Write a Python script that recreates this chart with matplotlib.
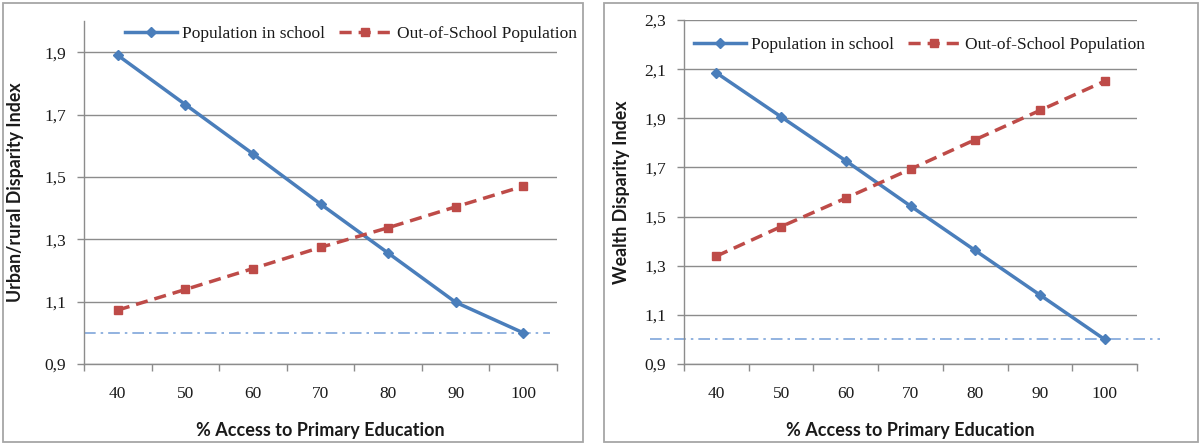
import matplotlib
matplotlib.use("Agg")
import matplotlib.pyplot as plt
from matplotlib.patches import Rectangle
from matplotlib.ticker import FixedLocator, FuncFormatter

# ---- data ----
access = ["40", "50", "60", "70", "80", "90", "100"]
urban_in_school = [1.89, 1.732, 1.574, 1.413, 1.256, 1.098, 1.0]
urban_out_school = [1.073, 1.139, 1.206, 1.274, 1.337, 1.404, 1.470]
wealth_in_school = [2.085, 1.906, 1.727, 1.543, 1.362, 1.181, 1.0]
wealth_out_school = [1.339, 1.459, 1.575, 1.693, 1.813, 1.932, 2.051]
urban_yticks = [0.9, 1.1, 1.3, 1.5, 1.7, 1.9]
wealth_yticks = [0.9, 1.1, 1.3, 1.5, 1.7, 1.9, 2.1, 2.3]
parity = 1.0
label_in = "Population in school"
label_out = "Out-of-School Population"
xlabel = "% Access to Primary Education"
ylabel_left = "Urban/rural Disparity Index"
ylabel_right = "Wealth Disparity Index"

BLUE = "#4A7EBB"
RED = "#BE4B48"
GRID = "#8C8C8C"
REF = "#7FA6DA"
TXT = "#1A1A1A"
SERIF = ["Liberation Serif", "DejaVu Serif"]
SANS = ["Lato", "DejaVu Sans"]

fig = plt.figure(figsize=(12, 4.43), dpi=100)
W, H = 1200, 443

# panel borders
for (x0, x1) in [(3, 583), (604, 1198)]:
    fig.add_artist(Rectangle((x0 / W, 1.5 / H), (x1 - x0) / W, (440 - 1.5) / H,
                             transform=fig.transFigure, fill=False,
                             edgecolor="#A6A6A6", linewidth=1.3))


def fmt(v, pos):
    return f"{v:.1f}".replace(".", ",")


def make_panel(rect, in_vals, out_vals, yticks, ylim, ylabel, leg_anchor,
               ref_x, ylab_x):
    ax = fig.add_axes(rect)
    n = len(access)
    xs = list(range(n))
    ax.set_xlim(-0.5, n - 0.5)
    ax.set_ylim(*ylim)
    ax.yaxis.set_major_locator(FixedLocator(yticks))
    ax.yaxis.set_major_formatter(FuncFormatter(fmt))
    ax.set_xticks([i - 0.5 for i in range(n + 1)])
    ax.set_xticklabels([])
    ax.set_xticks(xs, minor=True)
    ax.set_xticklabels(access, minor=True)
    ax.tick_params(axis="x", which="major", length=5, width=1, color=GRID,
                   direction="out")
    ax.tick_params(axis="x", which="minor", length=0, pad=16,
                   labelsize=12.5, labelcolor=TXT)
    ax.tick_params(axis="y", length=5, width=1, color=GRID, direction="out",
                   pad=8, labelsize=12.5, labelcolor=TXT)
    for lab in ax.get_xticklabels(minor=True) + ax.get_yticklabels():
        lab.set_family(SERIF)
    for s in ["top", "right"]:
        ax.spines[s].set_visible(False)
    for s in ["left", "bottom"]:
        ax.spines[s].set_color(GRID)
        ax.spines[s].set_linewidth(1)
    ax.grid(axis="y", color=GRID, linewidth=1)
    ax.set_axisbelow(True)

    ax.plot([ref_x[0], ref_x[1]], [parity, parity], transform=ax.get_yaxis_transform(),
            color=REF, linewidth=1.2, linestyle=(0, (7, 3, 1.5, 3)),
            clip_on=False, zorder=1.5)

    ax.plot(xs, in_vals, color=BLUE, linewidth=2.5, marker="D", markersize=5,
            label=label_in, zorder=3)
    ax.plot(xs, out_vals, color=RED, linewidth=2.5, linestyle=(0, (3.5, 2)),
            marker="s", markersize=6, label=label_out, zorder=3)

    leg = ax.legend(loc="center left", bbox_to_anchor=leg_anchor, ncol=2,
                    frameon=False, prop={"family": SERIF, "size": 12.5},
                    handlelength=3.0, handletextpad=0.3, columnspacing=0.8,
                    borderaxespad=0, borderpad=0)
    for t in leg.get_texts():
        t.set_color(TXT)

    ax.set_xlabel(xlabel, family=SANS, fontweight="bold", fontsize=13,
                  color=TXT)
    ax.xaxis.set_label_coords(0.5, -0.168)
    ax.set_ylabel(ylabel, family=SANS, fontweight="bold", fontsize=12.8,
                  color=TXT)
    ax.yaxis.set_label_coords(ylab_x, 0.5)
    return ax


bottom = (H - 364) / H
make_panel([84 / W, bottom, 473 / W, 343 / H], urban_in_school, urban_out_school,
           urban_yticks, (0.9, 2.0), ylabel_left, (0.087, 0.962),
           (0.0, 0.985), -0.126)
make_panel([684 / W, bottom, 453 / W, 344 / H], wealth_in_school, wealth_out_school,
           wealth_yticks, (0.9, 2.3), ylabel_right, (0.022, 0.927),
           (-0.075, 1.05), -0.12)

fig.savefig("out.png", dpi=100)
